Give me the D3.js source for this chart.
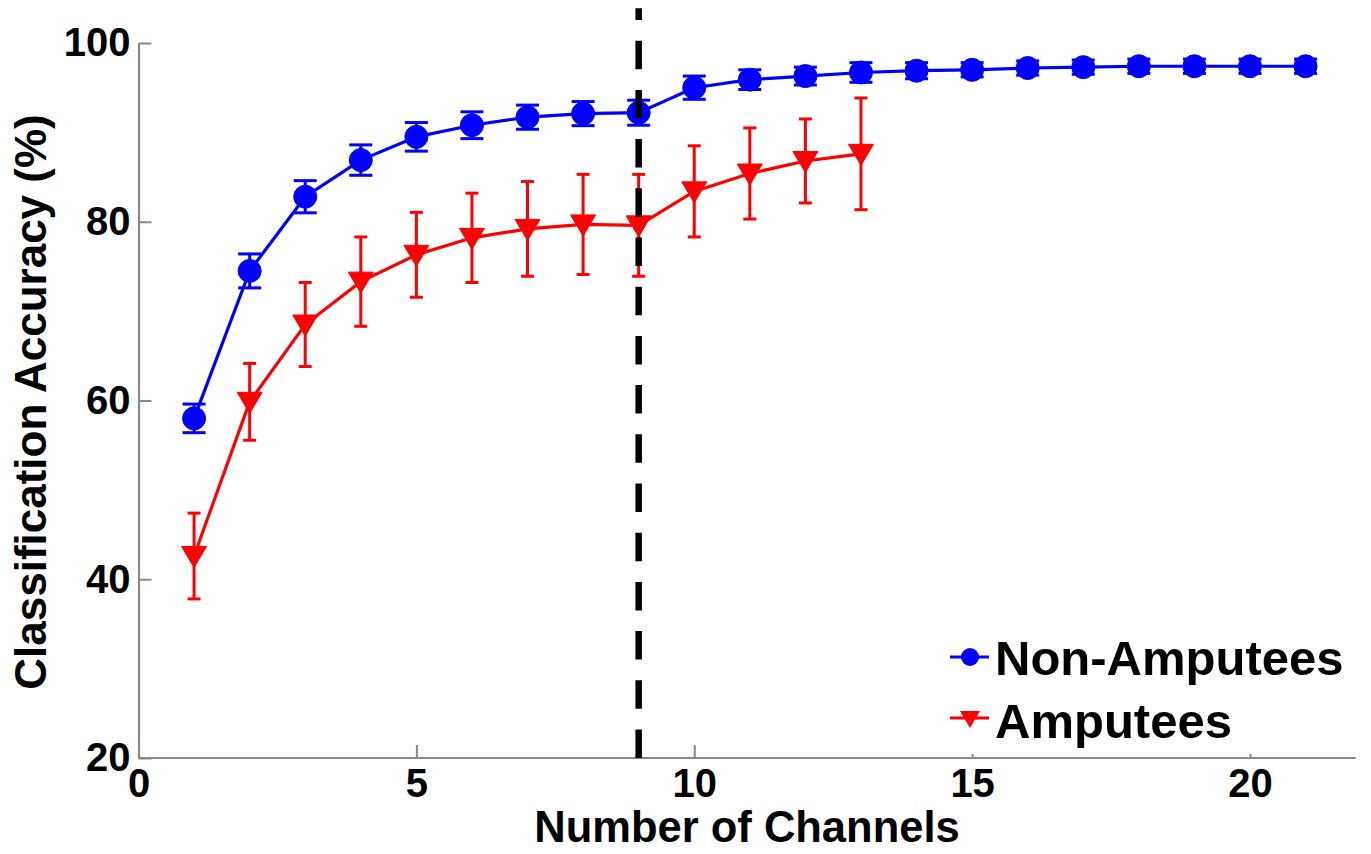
<!DOCTYPE html>
<html>
<head>
<meta charset="utf-8">
<script src="https://cdn.jsdelivr.net/npm/d3@7"></script>
<style>
  html, body { margin: 0; padding: 0; background: #fff; }
  svg { display: block; }
  text { font-family: "Liberation Sans", Arial, sans-serif; font-weight: bold; fill: #000; }
</style>
</head>
<body>
<svg id="chart" width="1371" height="854"></svg>
<script>
// ---- data ----
const channels = d3.range(1, 22);
const nonAmputees = [58.0, 74.5, 82.8, 86.9, 89.5, 90.8, 91.7, 92.1, 92.2, 95.0, 95.9, 96.3, 96.7, 96.9, 97.0, 97.2, 97.3, 97.4, 97.4, 97.4, 97.4];
const nonAmputeesErr = [1.6, 1.9, 1.8, 1.7, 1.6, 1.5, 1.35, 1.35, 1.4, 1.3, 1.1, 1.0, 1.1, 0.9, 0.8, 0.8, 0.8, 0.8, 0.8, 0.8, 0.8];
const amputeeChannels = d3.range(1, 14);
const amputees = [42.6, 59.85, 68.5, 73.3, 76.3, 78.2, 79.2, 79.7, 79.6, 83.4, 85.4, 86.8, 87.6];
const amputeesErr = [4.8, 4.3, 4.7, 5.0, 4.75, 5.0, 5.3, 5.6, 5.7, 5.1, 5.1, 4.7, 6.25];
const xTicks = [0, 5, 10, 15, 20];
const yTicks = [20, 40, 60, 80, 100];
const markerLine = 9;
const seriesNames = ["Non-Amputees", "Amputees"];
const xMax = 21.9;

// ---- scales ----
const svg = d3.select("#chart");
const x = d3.scaleLinear().domain([0, 20]).range([138.5, 1250]);
const y = d3.scaleLinear().domain([20, 100]).range([758, 43]);
const axisColor = "#888";

// ---- axes ----
const xAxis = d3.axisBottom(x).tickValues(xTicks).tickSizeInner(-13).tickSizeOuter(0).tickPadding(10).tickFormat(d3.format("d"));
const yAxis = d3.axisLeft(y).tickValues(yTicks).tickSizeInner(-13).tickSizeOuter(0).tickPadding(8).tickFormat(d3.format("d"));

const gx = svg.append("g").attr("transform", `translate(0,${y(20)})`).call(xAxis);
gx.select(".domain").attr("d", `M${x(0)},0H${x(xMax)}`);
const gy = svg.append("g").attr("transform", `translate(${x(0)},0)`).call(yAxis);

[gx, gy].forEach(g => {
  g.select(".domain").attr("stroke", axisColor).attr("stroke-width", 2.2);
  g.selectAll(".tick line").attr("stroke", axisColor).attr("stroke-width", 2);
  g.selectAll(".tick text").style("font-size", "40px").style("font-family", '"Liberation Sans", Arial, sans-serif').style("font-weight", "bold").attr("fill", "#000");
});
gx.selectAll(".tick text").attr("dy", "0.72em");

// axis titles
svg.append("text").attr("x", 747).attr("y", 842).attr("text-anchor", "middle").style("font-size", "43.5px").text("Number of Channels");
svg.append("text").attr("transform", "translate(46,402) rotate(-90)").attr("text-anchor", "middle").style("font-size", "44px").text("Classification Accuracy (%)");

// ---- series drawing ----
function drawSeries(xs, vals, errs, color, capW, marker) {
  const g = svg.append("g");
  const pts = xs.map((c, i) => ({ c, v: vals[i], e: errs[i] }));
  // error bars
  const eb = g.selectAll(".eb").data(pts).enter().append("g").attr("stroke", color).attr("stroke-width", 3);
  eb.append("line").attr("x1", d => x(d.c)).attr("x2", d => x(d.c)).attr("y1", d => y(d.v - d.e)).attr("y2", d => y(d.v + d.e));
  eb.append("line").attr("x1", d => x(d.c) - capW / 2).attr("x2", d => x(d.c) + capW / 2).attr("y1", d => y(d.v + d.e)).attr("y2", d => y(d.v + d.e));
  eb.append("line").attr("x1", d => x(d.c) - capW / 2).attr("x2", d => x(d.c) + capW / 2).attr("y1", d => y(d.v - d.e)).attr("y2", d => y(d.v - d.e));
  // line
  g.append("path").datum(pts).attr("fill", "none").attr("stroke", color).attr("stroke-width", 3.2)
    .attr("d", d3.line().x(d => x(d.c)).y(d => y(d.v)));
  // markers
  g.selectAll(".mk").data(pts).enter().append("path")
    .attr("transform", d => `translate(${x(d.c)},${y(d.v)})`)
    .attr("d", marker).attr("fill", color).attr("stroke", color).attr("stroke-width", 1);
}
const circleMarker = d3.symbol().type(d3.symbolCircle).size(Math.PI * 11.5 * 11.5)();
const triMarker = "M-12.5,-9.5L12.5,-9.5L0,11.5Z";
drawSeries(channels, nonAmputees, nonAmputeesErr, "#0000ff", 23, circleMarker);
drawSeries(amputeeChannels, amputees, amputeesErr, "#ff0000", 13, triMarker);

// ---- dashed vertical line ----
svg.append("line")
  .attr("x1", x(markerLine)).attr("x2", x(markerLine))
  .attr("y1", y(20)).attr("y2", y(103.9))
  .attr("stroke", "#000").attr("stroke-width", 6.5)
  .attr("stroke-dasharray", "28.5,20.7");

// ---- legend ----
const lg = svg.append("g");
lg.append("rect").attr("x", 945).attr("y", 622).attr("width", 411).attr("height", 132).attr("fill", "#fff");
const legendItems = [
  { name: seriesNames[0], color: "#0000ff", marker: d3.symbol().type(d3.symbolCircle).size(Math.PI * 9 * 9)(), ly: 657, ty: 675 },
  { name: seriesNames[1], color: "#ff0000", marker: "M-10,-7L10,-7L0,10Z", ly: 718, ty: 738 }
];
legendItems.forEach(it => {
  lg.append("line").attr("x1", 950).attr("x2", 989).attr("y1", it.ly).attr("y2", it.ly).attr("stroke", it.color).attr("stroke-width", 3);
  lg.append("path").attr("transform", `translate(970,${it.ly})`).attr("d", it.marker).attr("fill", it.color);
  lg.append("text").attr("x", 995).attr("y", it.ty).style("font-size", "49px").text(it.name);
});
</script>
</body>
</html>
